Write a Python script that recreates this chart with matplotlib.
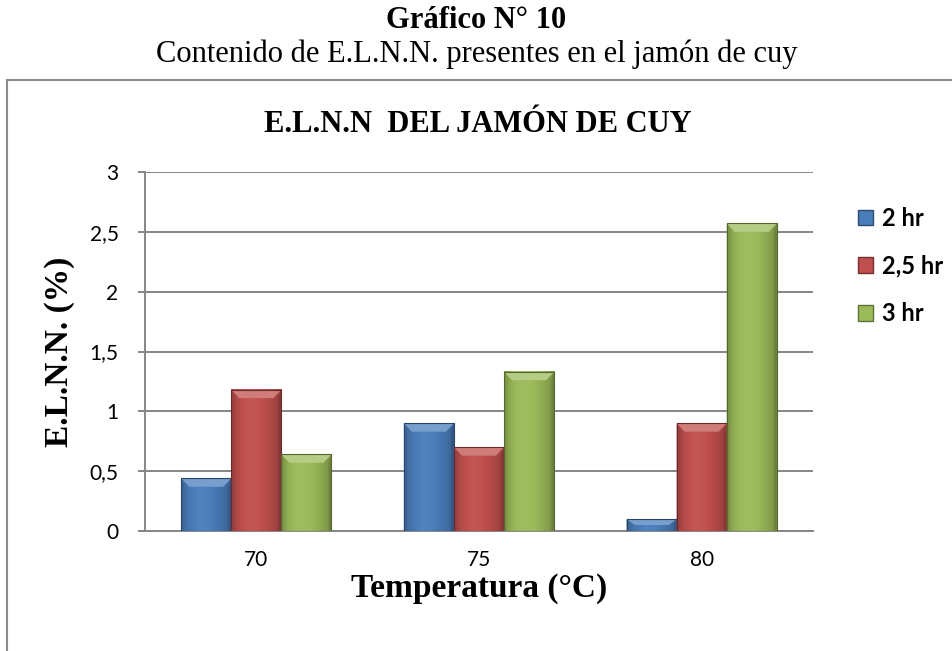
import numpy as np
import matplotlib
matplotlib.use("Agg")
import matplotlib.pyplot as plt
from matplotlib.lines import Line2D
from matplotlib.patches import Polygon
from matplotlib.colors import to_rgb
from matplotlib.ticker import FuncFormatter

# -----------------------------
# Data
# -----------------------------
temps = ["70", "75", "80"]
series = ["2 hr", "2,5 hr", "3 hr"]
v_2hr = [0.44, 0.90, 0.10]
v_25hr = [1.18, 0.70, 0.90]
v_3hr = [0.64, 1.33, 2.57]
colors = ["#4A7EBB", "#C0504D", "#9BBB59"]

SERIF = "Liberation Serif"
SANS = "Lato"
W, H = 953, 651

fig = plt.figure(figsize=(W / 100, H / 100), dpi=100)
ax = fig.add_axes([145 / W, 1 - 531 / H, 668 / W, (531 - 172) / H])

# figure titles
fig.text(0.5, 1 - 21 / H, "Gráfico N° 10", ha="center", va="center",
         fontsize=22, fontweight="bold", family=SERIF)
fig.text(0.5, 1 - 54 / H, "Contenido de E.L.N.N. presentes en el jamón de cuy",
         ha="center", va="center", fontsize=22, family=SERIF)

# chart frame (left and top edges visible)
fy = 1 - 80 / H
fig.add_artist(Line2D([7 / W, 7 / W], [0, fy], transform=fig.transFigure,
                      color="#8c8c8c", lw=1.5))
fig.add_artist(Line2D([7 / W, 1], [fy, fy], transform=fig.transFigure,
                      color="#8c8c8c", lw=1.5))

fig.text(478 / W, 1 - 132 / H, "E.L.N.N  DEL JAMÓN DE CUY", ha="center", va="baseline",
         fontsize=22, fontweight="bold", family=SERIF)


def shade(c, f):
    r, g, b = to_rgb(c)
    if f >= 1:
        return tuple(min(1, x + (1 - x) * (f - 1)) for x in (r, g, b))
    return tuple(x * f for x in (r, g, b))


def fancy_bar(ax, x0, w, h, color):
    # horizontal gradient body
    prof = np.array([0.78, 0.92, 1.0, 1.04, 1.02, 0.98, 0.92, 0.85, 0.74])
    xs = np.linspace(0, 1, len(prof))
    xx = np.linspace(0, 1, 64)
    f = np.interp(xx, xs, prof)
    img = np.array([[shade(color, v) for v in f]])
    ax.imshow(img, extent=[x0, x0 + w, 0, h], aspect="auto", zorder=3,
              interpolation="bilinear")
    # top bevel
    bh = min(0.07, h * 0.5)
    inset = w * 0.16
    top = Polygon([[x0, h], [x0 + w, h], [x0 + w - inset, h - bh], [x0 + inset, h - bh]],
                  closed=True, facecolor=shade(color, 1.25), edgecolor="none", zorder=4)
    ax.add_patch(top)
    # side bevels
    lside = Polygon([[x0, 0], [x0, h], [x0 + inset * 0.35, h - bh], [x0 + inset * 0.35, 0]],
                    closed=True, facecolor=shade(color, 0.8), edgecolor="none", zorder=4)
    rside = Polygon([[x0 + w, 0], [x0 + w, h], [x0 + w - inset * 0.35, h - bh],
                     [x0 + w - inset * 0.35, 0]],
                    closed=True, facecolor=shade(color, 0.7), edgecolor="none", zorder=4)
    ax.add_patch(lside)
    ax.add_patch(rside)
    ax.add_patch(plt.Rectangle((x0, 0), w, h, fill=False,
                               edgecolor=shade(color, 0.55), lw=0.8, zorder=5))


x = np.arange(len(temps))
width = 0.225
for i, (vals, col) in enumerate(zip([v_2hr, v_25hr, v_3hr], colors)):
    for xi, v in zip(x, vals):
        x0 = xi + (i - 1) * width - width / 2
        fancy_bar(ax, x0, width, v, col)

ax.set_xlim(-0.5, 2.5)
ax.set_ylim(0, 3)
ax.set_yticks(np.arange(0, 3.01, 0.5))
ax.yaxis.set_major_formatter(FuncFormatter(lambda v, p: f"{v:g}".replace(".", ",")))
ax.set_xticks(x)
ax.set_xticklabels(temps)
ax.grid(axis="y", color="#868686", lw=1.4, zorder=0)
ax.set_axisbelow(True)
for s in ["top", "right"]:
    ax.spines[s].set_visible(False)
for s in ["left", "bottom"]:
    ax.spines[s].set_color("#868686")
    ax.spines[s].set_linewidth(1.4)
ax.tick_params(axis="y", length=5, color="#868686", width=1.4, labelsize=15, pad=14)
ax.tick_params(axis="x", length=0, labelsize=15, pad=14)
for lab in ax.get_xticklabels() + ax.get_yticklabels():
    lab.set_family(SANS)

# axis titles
fig.text(60 / W, 1 - 352 / H, "E.L.N.N. (%)", rotation=90, ha="center", va="center",
         fontsize=24, fontweight="bold", family=SERIF)
fig.text(479 / W, 1 - 588 / H, "Temperatura (°C)", ha="center", va="center",
         fontsize=24, fontweight="bold", family=SERIF)

handles = [plt.Rectangle((0, 0), 1, 1, facecolor=c, edgecolor=shade(c, 0.6)) for c in colors]
leg = fig.legend(handles, series, loc="center left", bbox_to_anchor=(858 / W, 1 - 266 / H),
                 frameon=False, prop={"family": SANS, "weight": "bold", "size": 17},
                 handlelength=0.65, handleheight=0.65, handletextpad=0.35,
                 labelspacing=1.05, borderaxespad=0, borderpad=0)

fig.savefig("out.png", dpi=100)
